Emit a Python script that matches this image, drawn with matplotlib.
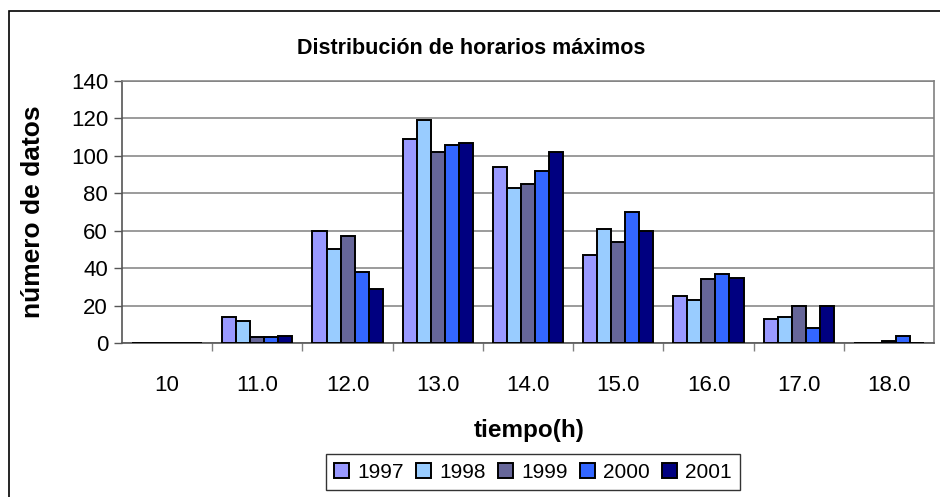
import matplotlib
matplotlib.use("Agg")
import matplotlib.pyplot as plt
import numpy as np
from matplotlib.patches import Rectangle

plt.rcParams['font.family'] = ['Liberation Sans', 'DejaVu Sans']

categories = ["10", "11.0", "12.0", "13.0", "14.0", "15.0", "16.0", "17.0", "18.0"]
years = ["1997", "1998", "1999", "2000", "2001"]
v1997 = [0, 14, 60, 109, 94, 47, 25, 13, 0]
v1998 = [0, 12, 50, 119, 83, 61, 23, 14, 0]
v1999 = [0, 3, 57, 102, 85, 54, 34, 20, 1]
v2000 = [0, 3, 38, 106, 92, 70, 37, 8, 4]
v2001 = [0, 4, 29, 107, 102, 60, 35, 20, 0]
series = [v1997, v1998, v1999, v2000, v2001]
colors = ["#9999FF", "#99CCFF", "#666699", "#3366FF", "#000080"]

fig = plt.figure(figsize=(9.4, 4.97), dpi=100)
# outer chart border
fig.patches.append(Rectangle((9/940, -0.1), 1.2, 1 - 11/497 + 0.1, transform=fig.transFigure,
                             fill=False, edgecolor="black", linewidth=1.2))

ax = fig.add_axes([122/940, 1 - 343/497, (934 - 122)/940, (343 - 81)/497])
x = np.arange(len(categories))
bw = 14/90
n = len(series)
for i, (vals, c, yr) in enumerate(zip(series, colors, years)):
    offs = (i - (n - 1)/2) * bw
    ax.bar(x + offs, vals, width=bw, color=c, edgecolor="black", linewidth=1.4, label=yr, zorder=3)

ax.set_xlim(-0.5, len(categories) - 0.5)
ax.set_ylim(0, 140)
ax.set_yticks(np.arange(0, 141, 20))
ax.yaxis.grid(True, color="#808080", linewidth=1.1, zorder=0)
ax.set_axisbelow(True)
ax.set_xticks(x)
ax.set_xticklabels(categories, fontsize=16)
ax.set_xticks(np.arange(0.5, len(categories) - 0.5, 1), minor=True)
ax.tick_params(axis='x', which='major', length=0, pad=23)
ax.tick_params(axis='x', which='minor', length=6, width=1.0, color="#808080", direction='out')
ax.tick_params(axis='y', labelsize=16, length=6, width=1.0, color="#555555", pad=4)
for s in ["left", "bottom"]:
    ax.spines[s].set_color("#555555")
    ax.spines[s].set_linewidth(1.2)
ax.spines["right"].set_color("#808080")
ax.spines["right"].set_linewidth(1.2)
ax.spines["top"].set_color("#808080")
ax.spines["top"].set_linewidth(1.1)

fig.text(33/940, 1 - 212/497, "número de datos", rotation=90, ha="center", va="center",
         fontsize=19, fontweight="bold")
fig.text(529/940, 1 - 430/497, "tiempo(h)", ha="center", va="center", fontsize=17.5, fontweight="bold")
fig.text(471/940, 1 - 49/497, "Distribución de horarios máximos", ha="center", va="center",
         fontsize=15.5, fontweight="bold")

leg = fig.legend(loc="center", bbox_to_anchor=(533/940, 1 - 472/497), ncol=5, fontsize=15,
                 frameon=True, fancybox=False, edgecolor="black", handlelength=0.7,
                 handleheight=0.7, handletextpad=0.4, columnspacing=0.6, borderpad=0.4)
leg.get_frame().set_linewidth(1.0)

fig.savefig("out.png", dpi=100)
